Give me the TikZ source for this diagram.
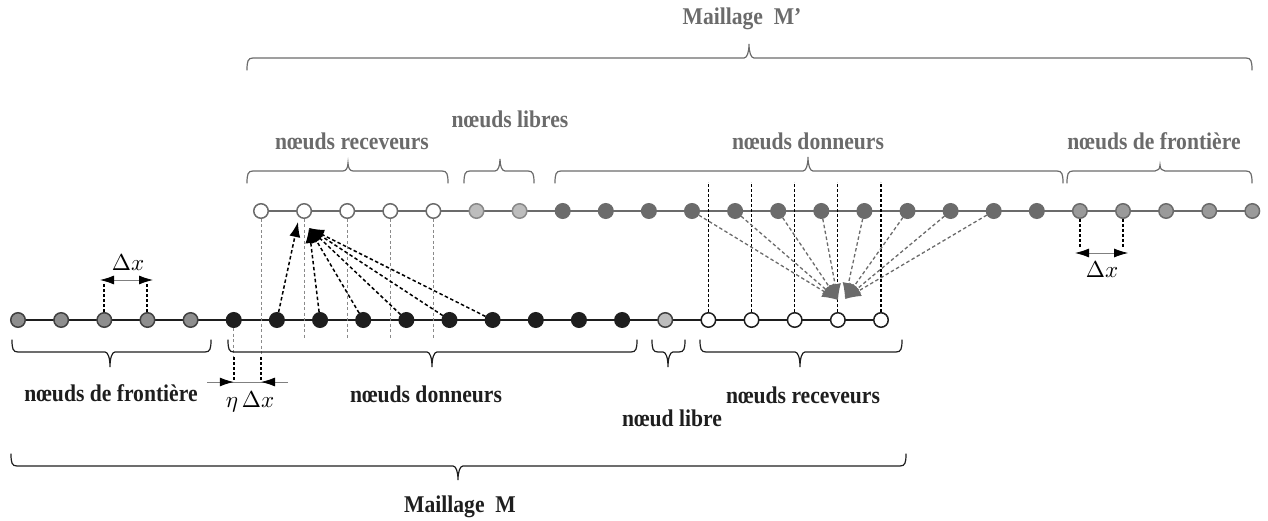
\documentclass[tikz,border=0pt]{standalone}
\usepackage{fontspec}
\newfontfamily\lab{Liberation Serif}[FakeStretch=0.9]
\usetikzlibrary{arrows.meta,backgrounds}
\definecolor{ugray}{HTML}{6B6B6B}
\definecolor{ulib}{HTML}{BDBDBD}
\definecolor{ufr}{HTML}{9A9A9A}
\definecolor{lfr}{HTML}{8E8E8E}
\definecolor{lblk}{HTML}{1E1E1E}
\definecolor{vgr}{HTML}{8A8A8A}
% brace: [style]{x1}{x2}{xtip}{yends}{sign}{tip height}
\newcommand{\hbr}[7][]{%
  \draw[brc,#1] (#2,#5) .. controls (#2,{#5+(#6)*9}) and ({#2+1},{#5+(#6)*12}) .. ({#2+6},{#5+(#6)*12})
   -- ({#4-5},{#5+(#6)*12}) .. controls ({#4-2},{#5+(#6)*12}) and (#4,{#5+(#6)*(12+0.4*#7)}) .. (#4,{#5+(#6)*(12+#7)})
   .. controls (#4,{#5+(#6)*(12+0.4*#7)}) and ({#4+2},{#5+(#6)*12}) .. ({#4+5},{#5+(#6)*12})
   -- ({#3-6},{#5+(#6)*12}) .. controls ({#3-1},{#5+(#6)*12}) and (#3,{#5+(#6)*9}) .. (#3,#5);}
\tikzset{
 brc/.style={line width=1.2pt, line cap=round},
 ubr/.style={draw=ugray},
 lbr/.style={draw=lblk},
 nd/.style={circle, minimum size=14.5pt, inner sep=0pt, line width=1.5pt},
 uw/.style={nd, draw=ugray, fill=white},
 ul/.style={nd, draw=ugray!80, fill=ulib},
 ud/.style={nd, draw=ugray, fill=ugray},
 uf/.style={nd, draw=ugray, fill=ufr},
 lf/.style={nd, draw=lblk!85, fill=lfr},
 lb/.style={nd, draw=lblk, fill=lblk},
 ll/.style={nd, draw=lblk!85, fill=ulib},
 lr/.style={nd, draw=lblk, fill=white},
 urow/.style={draw=ugray, line width=2.2pt},
 lrow/.style={draw=lblk, line width=2pt},
 ulab/.style={font=\lab\bfseries\fontsize{24}{28}\selectfont, text=ugray, anchor=base},
 llab/.style={font=\lab\bfseries\fontsize{24}{28}\selectfont, text=lblk, anchor=base},
 mlab/.style={scale=2.3, text=black},
 vgd/.style={draw=vgr, line width=0.9pt, dash pattern=on 3pt off 2.5pt},
 vbd/.style={draw=black, line width=1.1pt, dash pattern=on 3pt off 2pt},
 vbk/.style={draw=black, line width=2pt, dash pattern=on 3pt off 2pt},
 dim/.style={draw=gray, line width=0.8pt},
 dtip/.style={-{Latex[length=14pt,width=9pt,color=black]}},
 dtips/.style={{Latex[length=14pt,width=9pt,color=black]}-{Latex[length=14pt,width=9pt,color=black]}},
 barr/.style={draw=black, line width=1.5pt, dash pattern=on 3.5pt off 2.5pt, -{Latex[length=15pt,width=11pt]}},
 garr/.style={draw=ugray, line width=1.3pt, dash pattern=on 3.5pt off 2.5pt, -{Latex[length=16pt,width=12pt]}},
}
\begin{document}
\begin{tikzpicture}[x=1pt,y=-1pt]
\useasboundingbox (0,0) rectangle (1268,521);
% upper mesh nodes
\foreach \i in {0,...,4} \node[uw] (u\i) at ({261+43.1*\i},211) {};
\foreach \i in {5,6} \node[ul] (u\i) at ({261+43.1*\i},211) {};
\foreach \i in {7,...,18} \node[ud] (u\i) at ({261+43.1*\i},211) {};
\foreach \i in {19,...,23} \node[uf] (u\i) at ({261+43.1*\i},211) {};
% lower mesh nodes
\foreach \i in {0,...,4} \node[lf] (l\i) at ({18+43.15*\i},320) {};
\foreach \i in {5,...,14} \node[lb] (l\i) at ({18+43.15*\i},320) {};
\node[ll] (l15) at ({18+43.15*15},320) {};
\foreach \i in {16,...,20} \node[lr] (l\i) at ({18+43.15*\i},320) {};
\begin{scope}[on background layer]
\draw[urow] (u0.center) -- (u23.center);
\draw[lrow] (l0.center) -- (l20.center);
\end{scope}
% helper coordinates
\coordinate (gy) at (0,338);
\coordinate (ey) at (0,357);
\coordinate (ay) at (0,382);
\coordinate (vt) at (0,182);
\coordinate (dly) at (0,283);
\coordinate (dry) at (0,247);
\coordinate (ea) at (207,382);
\coordinate (eb) at (288,382);
\coordinate (dl1) at (100,280);
\coordinate (dl2) at (153,280);
\coordinate (dr1) at (1075,253);
\coordinate (dr2) at (1128,253);
\coordinate (ta) at (298,222);
\coordinate (tb) at (309,228);
\coordinate (tc) at (838,300);
\coordinate (td) at (845,299);
% vertical projections
\foreach \i in {1,...,4} \draw[vgd] (u\i.south) -- (u\i |- gy);
\draw[vgd] (u0.south) -- (u0 |- ey);
\draw[vgd] (l5.south) -- (l5 |- ey);
\draw[vbk] (u0 |- ey) -- (u0 |- ay);
\draw[vbk] (l5 |- ey) -- (l5 |- ay);
\draw[dim] (ea) -- (eb);
\draw[dim,dtip] (ea) -- (l5 |- ay);
\draw[dim,dtip] (eb) -- (u0 |- ay);
\foreach \i in {16,...,20} \draw[vbd] (l\i.north) -- (l\i |- vt);
% delta x marks
\draw[vbk] (l2.north) -- (l2 |- dly);
\draw[vbk] (l3.north) -- (l3 |- dly);
\draw[dim,dtips] (dl1) -- (dl2);
\draw[vbk] (u19.south) -- (u19 |- dry);
\draw[vbk] (u20.south) -- (u20 |- dry);
\draw[dim,dtips] (dr1) -- (dr2);
% interpolation arrows
\draw[barr] (l6) -- (ta);
\foreach \i in {7,...,11} \draw[barr] (l\i) -- (tb);
\foreach \i in {10,...,13} \draw[garr] (u\i) -- (tc);
\foreach \i in {14,...,17} \draw[garr] (u\i) -- (td);
% braces
\hbr[ubr]{247}{1252}{749}{70}{-1}{14}
\hbr[ubr]{247}{448}{348}{183}{-1}{8}
\hbr[ubr]{464}{534}{500}{183}{-1}{12}
\hbr[ubr]{555}{1063}{808}{183}{-1}{14}
\hbr[ubr]{1067}{1252}{1160}{183}{-1}{6}
\hbr[lbr]{12}{211}{110}{340}{1}{15}
\hbr[lbr]{228}{637}{432}{340}{1}{15}
\hbr[lbr]{652}{685}{668}{340}{1}{15}
\hbr[lbr]{700}{902}{800}{340}{1}{15}
\hbr[lbr]{11}{906}{458}{454}{1}{14}
% labels
\node[ulab] (mp) at (742,25) {Maillage\ \ M’};
\node[ulab] (t1) at (352,150) {nœuds receveurs};
\node[ulab] (t2) at (510,128) {nœuds libres};
\node[ulab] (t3) at (808,150) {nœuds donneurs};
\node[ulab] (t4) at (1154,150) {nœuds de frontière};
\node[llab] (b1) at (111,401) {nœuds de frontière};
\node[llab] (b2) at (426,402) {nœuds donneurs};
\node[llab] (b3) at (672,426) {nœud libre};
\node[llab] (b4) at (803,403) {nœuds receveurs};
\node[llab] (bm) at (460,512) {Maillage\ \ M};
\node[mlab] (dxl) at (128,263) {$\Delta x$};
\node[mlab] (dxr) at (1102,270) {$\Delta x$};
\node[mlab,anchor=base] (edx) at (250,407) {$\eta\,\Delta x$};
\end{tikzpicture}
\end{document}
